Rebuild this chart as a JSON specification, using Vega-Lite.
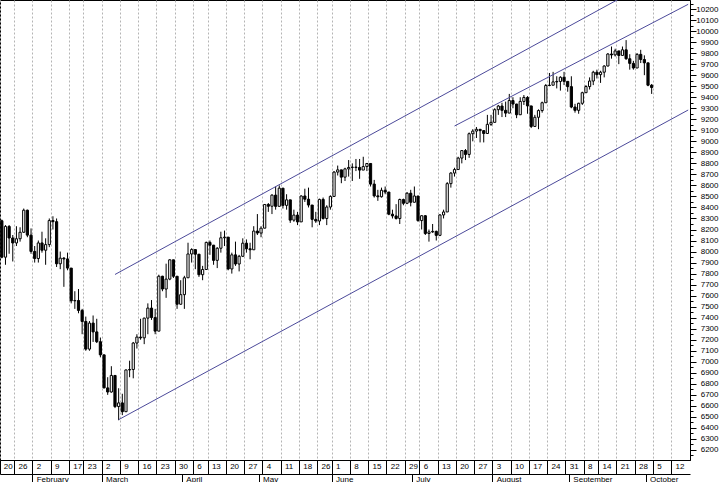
{
  "$schema": "https://vega.github.io/schema/vega-lite/v6.json",
  "width": 690,
  "height": 460,
  "autosize": {"type": "none"},
  "padding": {"left": 0, "top": 0, "right": 30, "bottom": 22},
  "background": "#ffffff",
  "config": {
    "view": {"stroke": "#000000", "strokeWidth": 1},
    "axis": {"labelFont": "Liberation Sans", "labelFontSize": 8, "labelColor": "#000000", "domainColor": "#000000", "tickColor": "#000000", "title": null}
  },
  "datasets": {
    "ohlc": [
      {"d":"2009-01-20","o":8279,"h":8290,"l":7939,"c":7949},
      {"d":"2009-01-21","o":7949,"h":8240,"l":7880,"c":8228},
      {"d":"2009-01-22","o":8228,"h":8240,"l":7980,"c":8123},
      {"d":"2009-01-23","o":8123,"h":8150,"l":7910,"c":8078},
      {"d":"2009-01-26","o":8078,"h":8230,"l":8050,"c":8116},
      {"d":"2009-01-27","o":8116,"h":8220,"l":8090,"c":8175},
      {"d":"2009-01-28","o":8175,"h":8390,"l":8170,"c":8375},
      {"d":"2009-01-29","o":8375,"h":8380,"l":8130,"c":8149},
      {"d":"2009-01-30","o":8149,"h":8210,"l":7980,"c":8001},
      {"d":"2009-02-02","o":8001,"h":8050,"l":7900,"c":7937},
      {"d":"2009-02-03","o":7937,"h":8100,"l":7900,"c":8078},
      {"d":"2009-02-04","o":8078,"h":8180,"l":7990,"c":8012},
      {"d":"2009-02-05","o":8012,"h":8120,"l":7880,"c":8063},
      {"d":"2009-02-06","o":8063,"h":8300,"l":8040,"c":8281},
      {"d":"2009-02-09","o":8281,"h":8320,"l":8200,"c":8271},
      {"d":"2009-02-10","o":8271,"h":8300,"l":7860,"c":7889},
      {"d":"2009-02-11","o":7889,"h":8000,"l":7840,"c":7940},
      {"d":"2009-02-12","o":7940,"h":7950,"l":7680,"c":7933},
      {"d":"2009-02-13","o":7933,"h":7990,"l":7830,"c":7850},
      {"d":"2009-02-17","o":7850,"h":7850,"l":7530,"c":7553},
      {"d":"2009-02-18","o":7553,"h":7640,"l":7480,"c":7556},
      {"d":"2009-02-19","o":7556,"h":7660,"l":7440,"c":7466},
      {"d":"2009-02-20","o":7466,"h":7480,"l":7250,"c":7366},
      {"d":"2009-02-23","o":7366,"h":7410,"l":7100,"c":7115},
      {"d":"2009-02-24","o":7115,"h":7370,"l":7100,"c":7351},
      {"d":"2009-02-25","o":7351,"h":7420,"l":7180,"c":7271},
      {"d":"2009-02-26","o":7271,"h":7390,"l":7170,"c":7182},
      {"d":"2009-02-27","o":7182,"h":7220,"l":7040,"c":7063},
      {"d":"2009-03-02","o":7063,"h":7063,"l":6760,"c":6763},
      {"d":"2009-03-03","o":6763,"h":6860,"l":6700,"c":6726},
      {"d":"2009-03-04","o":6726,"h":6960,"l":6720,"c":6876},
      {"d":"2009-03-05","o":6876,"h":6880,"l":6580,"c":6594},
      {"d":"2009-03-06","o":6594,"h":6760,"l":6470,"c":6627},
      {"d":"2009-03-09","o":6627,"h":6710,"l":6516,"c":6547},
      {"d":"2009-03-10","o":6547,"h":6930,"l":6547,"c":6926},
      {"d":"2009-03-11","o":6926,"h":7010,"l":6860,"c":6930},
      {"d":"2009-03-12","o":6930,"h":7180,"l":6850,"c":7170},
      {"d":"2009-03-13","o":7170,"h":7250,"l":7120,"c":7224},
      {"d":"2009-03-16","o":7224,"h":7390,"l":7200,"c":7217},
      {"d":"2009-03-17","o":7217,"h":7400,"l":7160,"c":7396},
      {"d":"2009-03-18","o":7396,"h":7530,"l":7250,"c":7487},
      {"d":"2009-03-19","o":7487,"h":7560,"l":7380,"c":7401},
      {"d":"2009-03-20","o":7401,"h":7480,"l":7250,"c":7278},
      {"d":"2009-03-23","o":7278,"h":7790,"l":7278,"c":7776},
      {"d":"2009-03-24","o":7776,"h":7780,"l":7640,"c":7660},
      {"d":"2009-03-25","o":7660,"h":7890,"l":7580,"c":7750},
      {"d":"2009-03-26","o":7750,"h":7930,"l":7740,"c":7925},
      {"d":"2009-03-27","o":7925,"h":7925,"l":7760,"c":7776},
      {"d":"2009-03-30","o":7776,"h":7776,"l":7480,"c":7522},
      {"d":"2009-03-31","o":7522,"h":7740,"l":7520,"c":7609},
      {"d":"2009-04-01","o":7609,"h":7780,"l":7480,"c":7762},
      {"d":"2009-04-02","o":7762,"h":8080,"l":7760,"c":7978},
      {"d":"2009-04-03","o":7978,"h":8030,"l":7900,"c":8018},
      {"d":"2009-04-06","o":8018,"h":8020,"l":7840,"c":7976},
      {"d":"2009-04-07","o":7976,"h":7976,"l":7770,"c":7790},
      {"d":"2009-04-08","o":7790,"h":7870,"l":7740,"c":7837},
      {"d":"2009-04-09","o":7837,"h":8090,"l":7837,"c":8083},
      {"d":"2009-04-13","o":8083,"h":8100,"l":7970,"c":8058},
      {"d":"2009-04-14","o":8058,"h":8060,"l":7880,"c":7920},
      {"d":"2009-04-15","o":7920,"h":8040,"l":7850,"c":8030},
      {"d":"2009-04-16","o":8030,"h":8180,"l":7990,"c":8125},
      {"d":"2009-04-17","o":8125,"h":8190,"l":8050,"c":8131},
      {"d":"2009-04-20","o":8131,"h":8131,"l":7830,"c":7842},
      {"d":"2009-04-21","o":7842,"h":7990,"l":7800,"c":7970},
      {"d":"2009-04-22","o":7970,"h":8090,"l":7870,"c":7887},
      {"d":"2009-04-23","o":7887,"h":7970,"l":7820,"c":7957},
      {"d":"2009-04-24","o":7957,"h":8120,"l":7950,"c":8076},
      {"d":"2009-04-27","o":8076,"h":8110,"l":7990,"c":8025},
      {"d":"2009-04-28","o":8025,"h":8080,"l":7930,"c":8016},
      {"d":"2009-04-29","o":8016,"h":8230,"l":8016,"c":8186},
      {"d":"2009-04-30","o":8186,"h":8340,"l":8150,"c":8168},
      {"d":"2009-05-01","o":8168,"h":8230,"l":8130,"c":8212},
      {"d":"2009-05-04","o":8212,"h":8430,"l":8212,"c":8427},
      {"d":"2009-05-05","o":8427,"h":8440,"l":8360,"c":8411},
      {"d":"2009-05-06","o":8411,"h":8520,"l":8340,"c":8512},
      {"d":"2009-05-07","o":8512,"h":8590,"l":8380,"c":8410},
      {"d":"2009-05-08","o":8410,"h":8600,"l":8410,"c":8575},
      {"d":"2009-05-11","o":8575,"h":8575,"l":8390,"c":8419},
      {"d":"2009-05-12","o":8419,"h":8520,"l":8380,"c":8469},
      {"d":"2009-05-13","o":8469,"h":8469,"l":8260,"c":8285},
      {"d":"2009-05-14","o":8285,"h":8380,"l":8270,"c":8331},
      {"d":"2009-05-15","o":8331,"h":8360,"l":8240,"c":8269},
      {"d":"2009-05-18","o":8269,"h":8510,"l":8269,"c":8504},
      {"d":"2009-05-19","o":8504,"h":8570,"l":8450,"c":8475},
      {"d":"2009-05-20","o":8475,"h":8580,"l":8400,"c":8422},
      {"d":"2009-05-21","o":8422,"h":8422,"l":8220,"c":8292},
      {"d":"2009-05-22","o":8292,"h":8360,"l":8260,"c":8277},
      {"d":"2009-05-26","o":8277,"h":8480,"l":8240,"c":8473},
      {"d":"2009-05-27","o":8473,"h":8490,"l":8290,"c":8300},
      {"d":"2009-05-28","o":8300,"h":8420,"l":8240,"c":8404},
      {"d":"2009-05-29","o":8404,"h":8510,"l":8380,"c":8500},
      {"d":"2009-06-01","o":8500,"h":8730,"l":8500,"c":8721},
      {"d":"2009-06-02","o":8721,"h":8780,"l":8690,"c":8741},
      {"d":"2009-06-03","o":8741,"h":8741,"l":8620,"c":8675},
      {"d":"2009-06-04","o":8675,"h":8760,"l":8640,"c":8750},
      {"d":"2009-06-05","o":8750,"h":8830,"l":8680,"c":8763},
      {"d":"2009-06-08","o":8763,"h":8800,"l":8640,"c":8766},
      {"d":"2009-06-09","o":8766,"h":8840,"l":8730,"c":8763},
      {"d":"2009-06-10","o":8763,"h":8840,"l":8660,"c":8739},
      {"d":"2009-06-11","o":8739,"h":8860,"l":8740,"c":8771},
      {"d":"2009-06-12","o":8771,"h":8800,"l":8730,"c":8799},
      {"d":"2009-06-15","o":8799,"h":8799,"l":8590,"c":8612},
      {"d":"2009-06-16","o":8612,"h":8650,"l":8490,"c":8505},
      {"d":"2009-06-17","o":8505,"h":8560,"l":8460,"c":8497},
      {"d":"2009-06-18","o":8497,"h":8580,"l":8490,"c":8556},
      {"d":"2009-06-19","o":8556,"h":8590,"l":8520,"c":8540},
      {"d":"2009-06-22","o":8540,"h":8540,"l":8330,"c":8339},
      {"d":"2009-06-23","o":8339,"h":8380,"l":8300,"c":8323},
      {"d":"2009-06-24","o":8323,"h":8430,"l":8290,"c":8300},
      {"d":"2009-06-25","o":8300,"h":8480,"l":8250,"c":8472},
      {"d":"2009-06-26","o":8472,"h":8480,"l":8420,"c":8438},
      {"d":"2009-06-29","o":8438,"h":8540,"l":8430,"c":8529},
      {"d":"2009-06-30","o":8529,"h":8560,"l":8410,"c":8447},
      {"d":"2009-07-01","o":8447,"h":8590,"l":8447,"c":8504},
      {"d":"2009-07-02","o":8504,"h":8504,"l":8270,"c":8281},
      {"d":"2009-07-06","o":8281,"h":8330,"l":8200,"c":8325},
      {"d":"2009-07-07","o":8325,"h":8330,"l":8150,"c":8164},
      {"d":"2009-07-08","o":8164,"h":8200,"l":8090,"c":8178},
      {"d":"2009-07-09","o":8178,"h":8250,"l":8170,"c":8183},
      {"d":"2009-07-10","o":8183,"h":8190,"l":8100,"c":8147},
      {"d":"2009-07-13","o":8147,"h":8340,"l":8140,"c":8332},
      {"d":"2009-07-14","o":8332,"h":8380,"l":8300,"c":8359},
      {"d":"2009-07-15","o":8359,"h":8630,"l":8359,"c":8616},
      {"d":"2009-07-16","o":8616,"h":8720,"l":8580,"c":8712},
      {"d":"2009-07-17","o":8712,"h":8760,"l":8680,"c":8744},
      {"d":"2009-07-20","o":8744,"h":8860,"l":8744,"c":8848},
      {"d":"2009-07-21","o":8848,"h":8920,"l":8800,"c":8916},
      {"d":"2009-07-22","o":8916,"h":8930,"l":8830,"c":8881},
      {"d":"2009-07-23","o":8881,"h":9080,"l":8850,"c":9069},
      {"d":"2009-07-24","o":9069,"h":9110,"l":9000,"c":9093},
      {"d":"2009-07-27","o":9093,"h":9130,"l":9030,"c":9109},
      {"d":"2009-07-28","o":9109,"h":9110,"l":8990,"c":9097},
      {"d":"2009-07-29","o":9097,"h":9100,"l":8990,"c":9071},
      {"d":"2009-07-30","o":9071,"h":9240,"l":9071,"c":9154},
      {"d":"2009-07-31","o":9154,"h":9240,"l":9140,"c":9172},
      {"d":"2009-08-03","o":9172,"h":9300,"l":9172,"c":9287},
      {"d":"2009-08-04","o":9287,"h":9330,"l":9240,"c":9320},
      {"d":"2009-08-05","o":9320,"h":9350,"l":9220,"c":9281},
      {"d":"2009-08-06","o":9281,"h":9360,"l":9220,"c":9256},
      {"d":"2009-08-07","o":9256,"h":9430,"l":9256,"c":9370},
      {"d":"2009-08-10","o":9370,"h":9400,"l":9300,"c":9338},
      {"d":"2009-08-11","o":9338,"h":9340,"l":9210,"c":9241},
      {"d":"2009-08-12","o":9241,"h":9400,"l":9240,"c":9362},
      {"d":"2009-08-13","o":9362,"h":9420,"l":9330,"c":9398},
      {"d":"2009-08-14","o":9398,"h":9410,"l":9250,"c":9321},
      {"d":"2009-08-17","o":9321,"h":9321,"l":9120,"c":9135},
      {"d":"2009-08-18","o":9135,"h":9240,"l":9135,"c":9218},
      {"d":"2009-08-19","o":9218,"h":9290,"l":9110,"c":9279},
      {"d":"2009-08-20","o":9279,"h":9360,"l":9260,"c":9350},
      {"d":"2009-08-21","o":9350,"h":9520,"l":9350,"c":9506},
      {"d":"2009-08-24","o":9506,"h":9620,"l":9500,"c":9509},
      {"d":"2009-08-25","o":9509,"h":9630,"l":9510,"c":9539},
      {"d":"2009-08-26","o":9539,"h":9590,"l":9480,"c":9543},
      {"d":"2009-08-27","o":9543,"h":9590,"l":9460,"c":9581},
      {"d":"2009-08-28","o":9581,"h":9630,"l":9510,"c":9544},
      {"d":"2009-08-31","o":9544,"h":9544,"l":9450,"c":9496},
      {"d":"2009-09-01","o":9496,"h":9590,"l":9300,"c":9311},
      {"d":"2009-09-02","o":9311,"h":9340,"l":9260,"c":9281},
      {"d":"2009-09-03","o":9281,"h":9350,"l":9250,"c":9345},
      {"d":"2009-09-04","o":9345,"h":9450,"l":9330,"c":9441},
      {"d":"2009-09-08","o":9441,"h":9510,"l":9440,"c":9497},
      {"d":"2009-09-09","o":9497,"h":9580,"l":9470,"c":9547},
      {"d":"2009-09-10","o":9547,"h":9640,"l":9510,"c":9627},
      {"d":"2009-09-11","o":9627,"h":9650,"l":9570,"c":9605},
      {"d":"2009-09-14","o":9605,"h":9640,"l":9530,"c":9627},
      {"d":"2009-09-15","o":9627,"h":9690,"l":9580,"c":9683},
      {"d":"2009-09-16","o":9683,"h":9800,"l":9680,"c":9792},
      {"d":"2009-09-17","o":9792,"h":9860,"l":9750,"c":9784},
      {"d":"2009-09-18","o":9784,"h":9840,"l":9770,"c":9820},
      {"d":"2009-09-21","o":9820,"h":9820,"l":9700,"c":9779},
      {"d":"2009-09-22","o":9779,"h":9860,"l":9780,"c":9830},
      {"d":"2009-09-23","o":9830,"h":9918,"l":9740,"c":9749},
      {"d":"2009-09-24","o":9749,"h":9790,"l":9650,"c":9707},
      {"d":"2009-09-25","o":9707,"h":9730,"l":9650,"c":9665},
      {"d":"2009-09-28","o":9665,"h":9800,"l":9665,"c":9789},
      {"d":"2009-09-29","o":9789,"h":9830,"l":9710,"c":9742},
      {"d":"2009-09-30","o":9742,"h":9780,"l":9600,"c":9712},
      {"d":"2009-10-01","o":9712,"h":9712,"l":9500,"c":9509},
      {"d":"2009-10-02","o":9509,"h":9520,"l":9430,"c":9488}
    ],
    "lines": [
      {"id":"lower","d":"2009-03-06","v":6475},
      {"id":"lower","d":"2009-10-16","v":9284},
      {"id":"upper","d":"2009-03-05","v":7792},
      {"id":"upper","d":"2009-10-16","v":10635},
      {"id":"middle","d":"2009-07-17","v":9139},
      {"id":"middle","d":"2009-10-16","v":10243}
    ]
  },
  "layer": [
    {
      "data": {"name": "ohlc"},
      "mark": {"type": "rule", "color": "#000000", "strokeWidth": 1},
      "encoding": {
        "x": {
          "field": "d", "type": "ordinal",
          "scale": {"type": "band", "paddingInner": 0, "paddingOuter": 0, "domain": ["2009-01-20","2009-01-21","2009-01-22","2009-01-23","2009-01-26","2009-01-27","2009-01-28","2009-01-29","2009-01-30","2009-02-02","2009-02-03","2009-02-04","2009-02-05","2009-02-06","2009-02-09","2009-02-10","2009-02-11","2009-02-12","2009-02-13","2009-02-17","2009-02-18","2009-02-19","2009-02-20","2009-02-23","2009-02-24","2009-02-25","2009-02-26","2009-02-27","2009-03-02","2009-03-03","2009-03-04","2009-03-05","2009-03-06","2009-03-09","2009-03-10","2009-03-11","2009-03-12","2009-03-13","2009-03-16","2009-03-17","2009-03-18","2009-03-19","2009-03-20","2009-03-23","2009-03-24","2009-03-25","2009-03-26","2009-03-27","2009-03-30","2009-03-31","2009-04-01","2009-04-02","2009-04-03","2009-04-06","2009-04-07","2009-04-08","2009-04-09","2009-04-13","2009-04-14","2009-04-15","2009-04-16","2009-04-17","2009-04-20","2009-04-21","2009-04-22","2009-04-23","2009-04-24","2009-04-27","2009-04-28","2009-04-29","2009-04-30","2009-05-01","2009-05-04","2009-05-05","2009-05-06","2009-05-07","2009-05-08","2009-05-11","2009-05-12","2009-05-13","2009-05-14","2009-05-15","2009-05-18","2009-05-19","2009-05-20","2009-05-21","2009-05-22","2009-05-26","2009-05-27","2009-05-28","2009-05-29","2009-06-01","2009-06-02","2009-06-03","2009-06-04","2009-06-05","2009-06-08","2009-06-09","2009-06-10","2009-06-11","2009-06-12","2009-06-15","2009-06-16","2009-06-17","2009-06-18","2009-06-19","2009-06-22","2009-06-23","2009-06-24","2009-06-25","2009-06-26","2009-06-29","2009-06-30","2009-07-01","2009-07-02","2009-07-06","2009-07-07","2009-07-08","2009-07-09","2009-07-10","2009-07-13","2009-07-14","2009-07-15","2009-07-16","2009-07-17","2009-07-20","2009-07-21","2009-07-22","2009-07-23","2009-07-24","2009-07-27","2009-07-28","2009-07-29","2009-07-30","2009-07-31","2009-08-03","2009-08-04","2009-08-05","2009-08-06","2009-08-07","2009-08-10","2009-08-11","2009-08-12","2009-08-13","2009-08-14","2009-08-17","2009-08-18","2009-08-19","2009-08-20","2009-08-21","2009-08-24","2009-08-25","2009-08-26","2009-08-27","2009-08-28","2009-08-31","2009-09-01","2009-09-02","2009-09-03","2009-09-04","2009-09-08","2009-09-09","2009-09-10","2009-09-11","2009-09-14","2009-09-15","2009-09-16","2009-09-17","2009-09-18","2009-09-21","2009-09-22","2009-09-23","2009-09-24","2009-09-25","2009-09-28","2009-09-29","2009-09-30","2009-10-01","2009-10-02","2009-10-05","2009-10-06","2009-10-07","2009-10-08","2009-10-09","2009-10-12","2009-10-13","2009-10-14","2009-10-15","2009-10-16"]},
          "axis": {
            "orient": "bottom", "offset": 14, "values": ["2009-02-02","2009-03-02","2009-04-01","2009-05-01","2009-06-01","2009-07-01","2009-08-03","2009-09-01","2009-10-01"],
            "bandPosition": 0, "grid": false, "domain": true, "ticks": true, "tickSize": 8,
            "labelAlign": "left", "labelBaseline": "top", "labelPadding": -7, "labelOffset": 2, "labelAngle": 0,
            "labelOverlap": false, "labelBound": false, "labelFlush": false,
            "labelExpr": "utcFormat(toDate(datum.value), '%B')"
          }
        },
        "y": {
          "field": "l", "type": "quantitative",
          "scale": {"domain": [6109, 10282], "nice": false, "zero": false},
          "axis": {
            "orient": "right", "grid": false, "format": "d",
            "values": [6200,6300,6400,6500,6600,6700,6800,6900,7000,7100,7200,7300,7400,7500,7600,7700,7800,7900,8000,8100,8200,8300,8400,8500,8600,8700,8800,8900,9000,9100,9200,9300,9400,9500,9600,9700,9800,9900,10000,10100,10200],
            "tickSize": 6,
            "labelAlign": "right", "labelPadding": 22, "labelOverlap": false, "labelBound": false, "labelFlush": false
          }
        },
        "y2": {"field": "h"}
      }
    },
    {
      "data": {"name": "ohlc"},
      "mark": {"type": "bar", "width": 2.2, "stroke": "#000000", "strokeWidth": 1},
      "encoding": {
        "x": {
          "field": "d", "type": "ordinal",
          "axis": {
            "orient": "bottom", "values": ["2009-01-20","2009-01-26","2009-02-02","2009-02-09","2009-02-17","2009-02-23","2009-03-02","2009-03-09","2009-03-16","2009-03-23","2009-03-30","2009-04-06","2009-04-13","2009-04-20","2009-04-27","2009-05-04","2009-05-11","2009-05-18","2009-05-26","2009-06-01","2009-06-08","2009-06-15","2009-06-22","2009-06-29","2009-07-06","2009-07-13","2009-07-20","2009-07-27","2009-08-03","2009-08-10","2009-08-17","2009-08-24","2009-08-31","2009-09-08","2009-09-14","2009-09-21","2009-09-28","2009-10-05","2009-10-12"],
            "bandPosition": 0, "grid": true, "gridColor": "#b4b4b4", "gridDash": [2, 2], "gridWidth": 1,
            "domain": true, "ticks": true, "tickSize": 14,
            "labelAlign": "left", "labelBaseline": "top", "labelPadding": -12, "labelOffset": 2, "labelAngle": 0,
            "labelOverlap": false, "labelBound": false, "labelFlush": false,
            "labelExpr": "'' + toNumber(slice(datum.value, 8))"
          }
        },
        "y": {"field": "o", "type": "quantitative", "axis": null},
        "y2": {"field": "c"},
        "fill": {"condition": {"test": "datum.c >= datum.o", "value": "#ffffff"}, "value": "#000000"}
      }
    },
    {
      "data": {"name": "lines"},
      "mark": {"type": "line", "color": "#4c4a9a", "strokeWidth": 1, "clip": true},
      "encoding": {
        "x": {"field": "d", "type": "ordinal", "axis": null},
        "y": {
          "field": "v", "type": "quantitative",
          "axis": {
            "orient": "right", "grid": false, "labels": false, "domain": false, "tickSize": 3,
            "values": [6150,6250,6350,6450,6550,6650,6750,6850,6950,7050,7150,7250,7350,7450,7550,7650,7750,7850,7950,8050,8150,8250,8350,8450,8550,8650,8750,8850,8950,9050,9150,9250,9350,9450,9550,9650,9750,9850,9950,10050,10150,10250]
          }
        },
        "detail": {"field": "id"}
      }
    }
  ],
  "resolve": {"axis": {"x": "independent", "y": "independent"}}
}
